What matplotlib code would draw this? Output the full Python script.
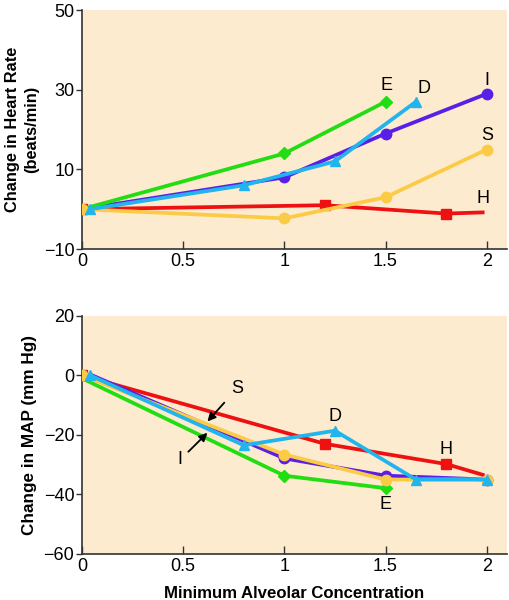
import matplotlib
matplotlib.use("Agg")
from matplotlib import pyplot as plt

plt.rcParams['font.family'] = ['Liberation Sans', 'DejaVu Sans']

# heart rate panel
hr_E_x = [0, 1, 1.5];            hr_E_y = [0, 14, 27]
hr_D_x = [0.04, 0.8, 1.25, 1.65]; hr_D_y = [0, 6, 12, 27]
hr_I_x = [0, 1, 1.5, 2];         hr_I_y = [0, 8, 19, 29]
hr_S_x = [0, 1, 1.5, 2];         hr_S_y = [0, -2.3, 3, 15]
hr_H_x = [0, 1.2, 1.8, 1.98];    hr_H_y = [0, 1, -1.1, -0.8]

# MAP panel
map_E_x = [0, 1, 1.5];                 map_E_y = [-1, -33.7, -37.9]
map_D_x = [0.04, 0.8, 1.25, 1.65, 2];  map_D_y = [0, -23.5, -18.6, -35, -35]
map_I_x = [0.05, 1, 1.5, 2];           map_I_y = [0, -27.9, -33.7, -35]
map_S_x = [0, 1, 1.5, 2];              map_S_y = [0, -26.6, -35, -35]
map_H_x = [0, 1.2, 1.8, 1.98];         map_H_y = [0, -23, -29.8, -33.4]

green = '#22DD11'
purple = '#5A1FE6'
cyan = '#22B4EC'
yellow = '#FCCB45'
red = '#EE1111'
bg = '#FDEBD0'

fig = plt.figure(figsize=(5.09, 6.0), dpi=100)
ax1 = fig.add_axes([0.161, 0.585, 0.835, 0.398])
ax2 = fig.add_axes([0.161, 0.0767, 0.835, 0.397])

lw = 2.7
ms = 7.5

def draw(ax, E, D, I, S, H):
    ax.plot(H[0], H[1], color=red, lw=lw, marker='s', ms=ms, markevery=list(range(len(H[0]) - 1)), zorder=3)
    ax.plot(S[0], S[1], color=yellow, lw=lw, marker='o', ms=ms, zorder=4)
    ax.plot(I[0], I[1], color=purple, lw=lw, marker='o', ms=ms, markevery=list(range(1, len(I[0]))), zorder=3)
    ax.plot(E[0], E[1], color=green, lw=lw, marker='D', ms=ms - 1, markevery=list(range(1, len(E[0]))), zorder=3)
    ax.plot(D[0], D[1], color=cyan, lw=lw, marker='^', ms=ms, zorder=5)

draw(ax1, (hr_E_x, hr_E_y), (hr_D_x, hr_D_y), (hr_I_x, hr_I_y), (hr_S_x, hr_S_y), (hr_H_x, hr_H_y))
draw(ax2, (map_E_x, map_E_y), (map_D_x, map_D_y), (map_I_x, map_I_y), (map_S_x, map_S_y), (map_H_x, map_H_y))

for ax in (ax1, ax2):
    ax.set_facecolor(bg)
    ax.set_xlim(0, 2.1)
    ax.set_xticks([0, 0.5, 1, 1.5, 2])
    ax.set_xticklabels(['0', '0.5', '1', '1.5', '2'])
    ax.spines['top'].set_visible(False)
    ax.spines['right'].set_visible(False)
    ax.spines['left'].set_color('#333333')
    ax.spines['bottom'].set_color('#333333')
    ax.spines['left'].set_linewidth(1.2)
    ax.spines['bottom'].set_linewidth(1.2)
    ax.tick_params(axis='x', direction='in', length=6, width=1, labelsize=13, pad=3, color='#333333')
    ax.tick_params(axis='y', direction='out', length=4.5, width=1, labelsize=13, pad=1, color='#333333')

ax1.set_ylim(-10, 50)
ax1.set_yticks([-10, 10, 30, 50])
ax1.set_yticklabels(['\u221210', '10', '30', '50'])
ax1.set_ylabel('Change in Heart Rate\n(beats/min)', fontsize=11.8, fontweight='bold', linespacing=1.35)
ax1.yaxis.set_label_coords(-0.1, 0.5)

ax2.set_ylim(-60, 20)
ax2.set_yticks([-60, -40, -20, 0, 20])
ax2.set_yticklabels(['\u221260', '\u221240', '\u221220', '0', '20'])
ax2.set_ylabel('Change in MAP (mm Hg)', fontsize=12.3, fontweight='bold')
ax2.yaxis.set_label_coords(-0.105, 0.5)
ax2.set_xlabel('Minimum Alveolar Concentration', fontsize=12.1, fontweight='bold', labelpad=8)

fs = 13
ax1.text(1.505, 31.2, 'E', fontsize=fs, ha='center', va='center')
ax1.text(1.69, 30.3, 'D', fontsize=fs, ha='center', va='center')
ax1.text(2.0, 32.4, 'I', fontsize=fs, ha='center', va='center')
ax1.text(2.0, 18.6, 'S', fontsize=fs, ha='center', va='center')
ax1.text(1.98, 2.6, 'H', fontsize=fs, ha='center', va='center')

ax2.text(1.25, -13.8, 'D', fontsize=fs, ha='center', va='center')
ax2.text(1.8, -25, 'H', fontsize=fs, ha='center', va='center')
ax2.text(1.5, -43.5, 'E', fontsize=fs, ha='center', va='center')
ax2.annotate('S', xy=(0.62, -15.5), xytext=(0.765, -4.5), fontsize=fs, ha='center', va='center',
             arrowprops=dict(arrowstyle='-|>', color='black', lw=1.3, shrinkA=4, shrinkB=0, mutation_scale=12))
ax2.annotate('I', xy=(0.62, -19.3), xytext=(0.485, -28.4), fontsize=fs, ha='center', va='center',
             arrowprops=dict(arrowstyle='-|>', color='black', lw=1.3, shrinkA=3, shrinkB=0, mutation_scale=12))

fig.savefig('out.png', dpi=100)
